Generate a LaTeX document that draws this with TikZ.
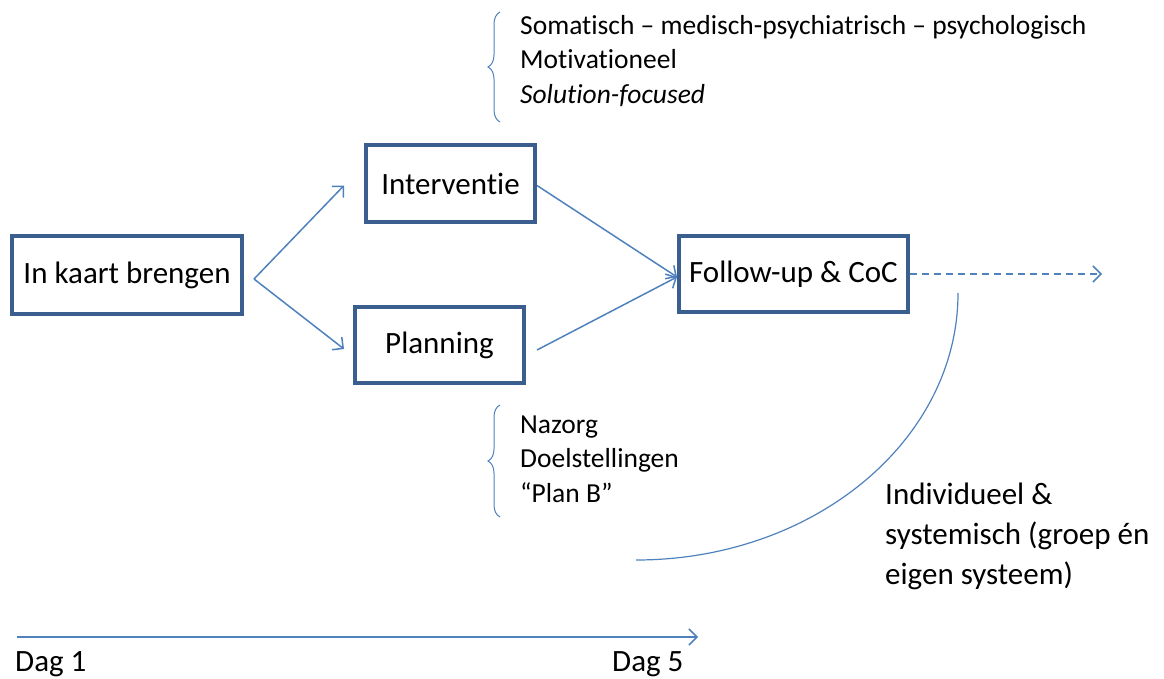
\documentclass[tikz,border=0pt]{standalone}
\usepackage{fontspec}
\setmainfont{Carlito}[Ligatures={TeX,NoCommon,NoRare,NoContextual},RawFeature={-liga;-clig;-dlig;-calt}]
\usetikzlibrary{arrows.meta,decorations.pathreplacing}
\definecolor{boxblue}{HTML}{3A5F8F}
\definecolor{lineblue}{HTML}{4F81BD}

\begin{document}
\begin{tikzpicture}[x=1pt,y=-1pt,
        stage/.style={
            draw=boxblue,
            line width=4pt,
            fill=white,
            inner sep=0pt,
            font=\fontsize{31}{41}\selectfont
        },
        flow/.style={-{Straight Barb[length=8pt,width=16pt]},line width=1.5pt,lineblue},
        note/.style={align=left,anchor=west,inner sep=0pt,font=\fontsize{27.5}{34.5}\selectfont},
        bigtext/.style={align=left,inner sep=0pt,font=\fontsize{31}{40}\selectfont},
        bracket/.style={decorate,decoration={brace,amplitude=12pt},lineblue,line width=1pt}
    ]
        \useasboundingbox (0,0) rectangle (1164,679);

        \node[stage, minimum width=230pt, minimum height=78pt] (mapping) at (127,275) {In kaart brengen};
        \node[stage, minimum width=169pt, minimum height=77pt] (intervention) at (450.5,183.5) {Interventie};
        \node[stage, minimum width=169pt, minimum height=76pt] (planning) at (439.5,345) {Planning};
        \node[stage, minimum width=229pt, minimum height=76pt] (followup) at (793.5,274) {Follow-up \& CoC};

        \node[note] (aspects) at (520,61) {Somatisch -- medisch-psychiatrisch -- psychologisch\\Motivationeel\\\textit{Solution-focused}};
        \node[note] (aftercare) at (520,459) {Nazorg\\Doelstellingen\\``Plan B''};
        \node[bigtext, anchor=west] (scope) at (885,536) {Individueel \&\\systemisch (groep én\\eigen systeem)};
        \node[bigtext, anchor=base west] (dayone) at (15,671) {Dag 1};
        \node[bigtext, anchor=base west] (dayfive) at (612,671) {Dag 5};

        \coordinate (beyond) at (1102,274);
        \coordinate (curvetop) at (958,293);
        \coordinate (timestart) at (17,637);
        \coordinate (timeend) at (698,637);

        \draw[flow] ([xshift=10pt,yshift=-4pt]mapping.east) -- ([xshift=-20pt,yshift=-2pt]intervention.west);
        \draw[flow] ([xshift=10pt,yshift=-4pt]mapping.east) -- ([xshift=-9pt,yshift=-4pt]planning.west);
        \draw[flow] ([yshift=-2pt]intervention.east) -- ([yshift=-3pt]followup.west);
        \draw[flow] ([xshift=11pt,yshift=-5pt]planning.east) -- ([yshift=-3pt]followup.west);
        \draw[flow, dash pattern=on 7pt off 5pt] (followup.east) -- (beyond);
        \draw[flow] (timestart) -- (timeend);
        \draw[lineblue, line width=1.2pt] (curvetop) arc[start angle=0, end angle=90, x radius=322, y radius=267];

        \draw[bracket] (500,122) -- (500,12);
        \draw[bracket] (500,517) -- (500,405);
    \end{tikzpicture}
\end{document}
